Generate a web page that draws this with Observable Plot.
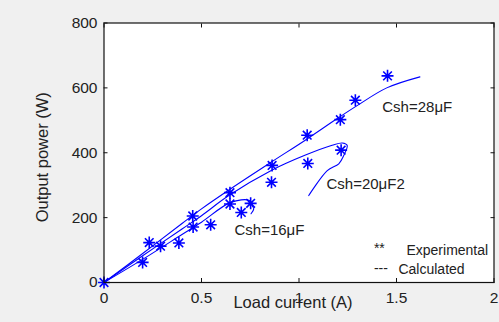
<!DOCTYPE html>
<html>
<head>
<meta charset="utf-8">
<script src="https://cdn.jsdelivr.net/npm/d3@7"></script>
<script src="https://cdn.jsdelivr.net/npm/@observablehq/plot@0.6"></script>
<style>
  html, body { margin: 0; padding: 0; background: #f0f0f0; }
  #chart svg { display: block; }
</style>
</head>
<body>
<div id="chart"></div>
<script>
// Experimental measurements (load current in A, output power in W)
const expCurrent28 = [0, 0.232, 0.455, 0.646, 0.862, 1.042, 1.212, 1.289, 1.454];
const expPower28   = [0, 123, 205, 277, 361, 454, 502, 562, 637];
const expCurrent20 = [0.29, 0.457, 0.646, 0.859, 1.045, 1.216];
const expPower20   = [112, 171, 242, 309, 367, 408];
const expCurrent16 = [0.198, 0.384, 0.547, 0.704, 0.752];
const expPower16   = [62, 122, 178, 216, 244];

// Calculated characteristics
const calcCurrent28 = [0, 0.2, 0.4, 0.5, 0.65, 0.86, 1.03, 1.2, 1.3, 1.45, 1.62];
const calcPower28   = [0, 90, 182, 227, 289, 372, 438, 507, 546, 600, 634];
const calcCurrent20 = [0, 0.2, 0.4, 0.5, 0.64, 0.86, 1.03, 1.17, 1.222, 1.247, 1.23, 1.204, 1.145, 1.05];
const calcPower20   = [0, 83, 165, 206, 268, 346, 392, 423, 430, 423, 392, 366, 345, 268];
const calcCurrent16 = [0, 0.2, 0.4, 0.5, 0.65, 0.745, 0.76, 0.768, 0.754];
const calcPower16   = [0, 72, 148, 186, 247, 253, 237, 227, 212];

const capacitors = ["28μF", "20μF", "16μF"];

const xTicks = [0, 0.5, 1, 1.5, 2];
const xTickLabels = ["0", "0.5", "1", "1.5", "2"];
const yTicks = [0, 200, 400, 600, 800];
const yTickLabels = ["0", "200", "400", "600", "800"];

const blue = "#0000ff";
const ink = "#222";

function rows(cap, xs, ys) {
  return xs.map((x, i) => ({cap, current: x, power: ys[i]}));
}
const experimental = [
  ...rows(capacitors[0], expCurrent28, expPower28),
  ...rows(capacitors[1], expCurrent20, expPower20),
  ...rows(capacitors[2], expCurrent16, expPower16)
];
const calculated = [
  ...rows(capacitors[0], calcCurrent28, calcPower28),
  ...rows(capacitors[1], calcCurrent20, calcPower20),
  ...rows(capacitors[2], calcCurrent16, calcPower16)
];

// Eight-armed asterisk marker ("+" combined with "x")
const asterisk = {
  draw(context, size) {
    const r = Math.sqrt(size / Math.PI);
    const d = r * 0.72;
    context.moveTo(0, -r); context.lineTo(0, r);
    context.moveTo(-r, 0); context.lineTo(r, 0);
    context.moveTo(-d, -d); context.lineTo(d, d);
    context.moveTo(-d, d); context.lineTo(d, -d);
  }
};

const font = "Liberation Sans, Arial, Helvetica, sans-serif";
const xFormat = v => xTickLabels[xTicks.indexOf(v)];
const yFormat = v => yTickLabels[yTicks.indexOf(v)];

const chart = Plot.plot({
  width: 499,
  height: 322,
  marginLeft: 103.5,
  marginRight: 5.5,
  marginTop: 22.5,
  marginBottom: 40,
  style: {background: "#f0f0f0", fontFamily: font, fontSize: "15px", color: ink, overflow: "visible"},
  x: {domain: [0, 2]},
  y: {domain: [0, 800]},
  marks: [
    Plot.frame({fill: "white", stroke: null}),
    Plot.axisX(xTicks, {anchor: "bottom", tickSize: -4, tickPadding: 13.5, tickFormat: xFormat, label: null, fontSize: 15.5, stroke: "#111", color: ink}),
    Plot.axisX(xTicks, {anchor: "top", tickSize: -4, tickFormat: () => "", label: null, stroke: "#111"}),
    Plot.axisY(yTicks, {anchor: "left", tickSize: -4, tickPadding: 10.5, tickFormat: yFormat, label: null, fontSize: 15.5, stroke: "#111", color: ink}),
    Plot.axisY(yTicks, {anchor: "right", tickSize: -4, tickFormat: () => "", label: null, stroke: "#111"}),
    Plot.line(calculated, {x: "current", y: "power", z: "cap", stroke: blue, strokeWidth: 1.1, curve: "catmull-rom"}),
    Plot.dot(experimental, {x: "current", y: "power", symbol: asterisk, r: 6, stroke: blue, strokeWidth: 1.6, fill: "none"}),
    Plot.frame({stroke: "#111", strokeWidth: 1.2}),
    // curve labels
    Plot.text([`Csh=${capacitors[0]}`], {x: 1.427, y: 540, text: d => d, textAnchor: "start", fontSize: 15, fill: ink}),
    Plot.text([`Csh=${capacitors[1]}2`], {x: 1.141, y: 304, text: d => d, textAnchor: "start", fontSize: 15, fill: ink}),
    Plot.text([`Csh=${capacitors[2]}`], {x: 0.669, y: 160, text: d => d, textAnchor: "start", fontSize: 15, fill: ink}),
    // key
    Plot.text(["**"], {x: 1.384, y: 104, text: d => d, textAnchor: "start", fontSize: 14, fill: ink}),
    Plot.text(["Experimental"], {x: 1.551, y: 100, text: d => d, textAnchor: "start", fontSize: 14, fill: ink}),
    Plot.text(["---"], {x: 1.384, y: 42, text: d => d, textAnchor: "start", fontSize: 14, fill: ink}),
    Plot.text(["Calculated"], {x: 1.51, y: 40, text: d => d, textAnchor: "start", fontSize: 14, fill: ink}),
    // axis titles
    Plot.text(["Load current (A)"], {frameAnchor: "bottom", textAnchor: "middle", lineAnchor: "middle", dx: -6, dy: 20.7, text: d => d, fontSize: 16.5, fill: ink}),
    Plot.text(["Output power (W)"], {frameAnchor: "left", textAnchor: "middle", lineAnchor: "middle", dx: -61, dy: 4.5, rotate: -90, text: d => d, fontSize: 16.5, fill: ink})
  ]
});

document.getElementById("chart").append(chart);
</script>
</body>
</html>
